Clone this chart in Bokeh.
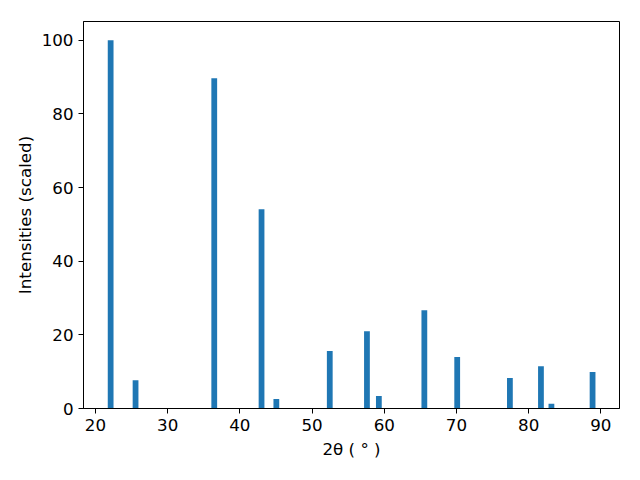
from bokeh.plotting import figure
from bokeh.models import FixedTicker, Range1d, ColumnDataSource
from bokeh.embed import file_html
from bokeh.resources import INLINE

two_theta = [22.1, 25.55, 36.45, 43.0, 45.05, 52.45, 57.6, 59.25, 65.55, 70.1, 77.4, 81.7, 83.15, 88.85]
intensity = [100.0, 7.7, 89.7, 54.1, 2.6, 15.6, 21.0, 3.4, 26.7, 14.0, 8.3, 11.5, 1.3, 9.9]
x_ticks = [20, 30, 40, 50, 60, 70, 80, 90]
y_ticks = [0, 20, 40, 60, 80, 100]

src = ColumnDataSource(data=dict(x=two_theta, top=intensity))

p = figure(width=624, height=464, output_backend="svg", toolbar_location=None,
           x_range=Range1d(18.34, 92.58), y_range=Range1d(0, 105.1),
           min_border_left=83, min_border_right=5, min_border_top=21, min_border_bottom=56)

p.vbar(x="x", top="top", bottom=0, width=0.8, source=src, color="#1f77b4", line_width=0)

p.xgrid.visible = False
p.ygrid.visible = False
p.outline_line_color = "black"
p.outline_line_alpha = 1
p.outline_line_width = 1

for ax in (p.xaxis[0], p.yaxis[0]):
    ax.axis_line_color = "black"
    ax.major_tick_line_color = "black"
    ax.major_tick_out = 5
    ax.major_tick_in = 0
    ax.minor_tick_line_color = None
    ax.major_label_text_font = "DejaVu Sans"
    ax.major_label_text_font_size = "16.7px"
    ax.major_label_text_color = "black"
    ax.axis_label_text_font = "DejaVu Sans"
    ax.axis_label_text_font_size = "16.7px"
    ax.axis_label_text_font_style = "normal"
    ax.axis_label_text_color = "black"

p.xaxis.ticker = FixedTicker(ticks=x_ticks)
p.yaxis.ticker = FixedTicker(ticks=y_ticks)
p.xaxis.axis_label = "2θ ( ° )"
p.yaxis.axis_label = "Intensities (scaled)"
p.xaxis.major_label_standoff = 5
p.yaxis.major_label_standoff = 5
p.xaxis.axis_label_standoff = 5
p.yaxis.axis_label_standoff = 4

open("out.html", "w").write(file_html(p, INLINE))
